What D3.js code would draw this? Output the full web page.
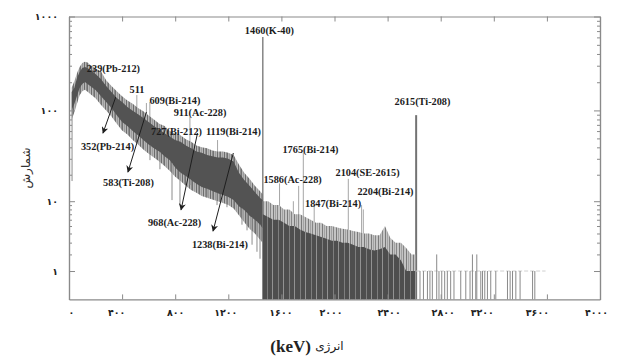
<!DOCTYPE html>
<html>
<head>
<meta charset="utf-8">
<script src="https://cdn.jsdelivr.net/npm/d3@7"></script>
<style>
  html, body { margin: 0; padding: 0; background: #fff; }
  svg { display: block; }
</style>
</head>
<body>
<svg id="chart" width="617" height="356"></svg>
<script>
// ---- Gamma spectrum of a soil sample (counts vs energy, keV) ----

// Continuum band below the K-40 line: energy (keV) and count envelopes
const bandEnergy = [20,40,60,80,100,120,140,160,200,240,280,320,360,400,440,480,520,560,600,640,680,720,760,800,840,880,920,960,1000,1040,1080,1120,1160,1200,1240,1280,1320,1360,1400,1440,1458];
const coreHigh  = [157,174,222,257,284,291,284,270,245,217,182,157,136,123,109,99,91,83,75,68,62,57,52,48,46,42,39,36,35,33,32,31,31,30,28,21,17.5,15,12.8,10.9,10.3];
const coreLow   = [101,117,143,174,192,201,192,182,165,143,123,106,89,75,68,60,54,48,43,39,36,32,29,24,21,19.4,17.5,15.8,14.6,13.9,13.1,12.4,11.8,11.2,10.3,8.7,7.9,6.7,6,5.2,4.7];
const outerHigh = [175,205,250,290,320,330,325,305,280,262,210,182,160,142,128,118,106,98,88,80,72,68,60,56,54,49,46,42,40,39,37,36,36,35,33,26,21,18,15,13,12];
const outerLow  = [80,95,118,145,160,166,158,150,135,115,100,86,72,61,55,48,43,38,34,31,28,25,22,19,17,15,13.5,12.5,11.5,11,10.5,10,9.5,9,8.2,6.8,5.6,4.6,4,3.3,3];

// Low-count region above the K-40 line (channels reach down to zero)
const tailEnergy = [1460,1500,1540,1580,1620,1660,1700,1740,1780,1820,1860,1900,1940,1980,2020,2060,2100,2140,2180,2220,2260,2300,2340,2380,2420,2460,2500,2540,2580,2612];
const tailCore   = [7,6.5,6,6,5.5,5,5,4.5,4.2,4,3.8,3.6,3.4,3.2,3.2,3,3,2.8,2.6,2.6,2.4,2.3,2.4,2.6,2,2,1.6,1,1,1];
const tailOuter  = [10,10,9,9,8,8,7,7,6.5,6,5.5,5.5,5,5,4.8,4.6,4.5,4.3,4.2,4,4,3.8,3.8,5,3.5,3,3,2.5,2,2];

// Single channels dipping below the continuum
const dipEnergy = [23,610,685,776,836,912,1040,1115,1190,1303,1341,1379,1416,1439];
const dipCount  = [17,29,23,10.3,9,15.3,11.2,9,8.5,5.2,4.4,2.8,2.2,1.7];

// Photopeak lines
const peakEnergy = [239,511,583,609,727,911,1119,1460,1586,1690,1730,1765,1847,2104,2204,2217,2615];
const peakCount  = [260,146,120,123,64,85,48,606,16,10,15,35,9,18,9,8,89];
const peakStrong = [1460,2615];

// Isolated channels beyond 2615 keV
const sparseEnergy = [2644,2670,2700,2719,2737,2770,2787,2808,2830,2850,2875,2900,2951,2989,3021,3039,3064,3072,3102,3115,3132,3152,3177,3215,3303,3323,3341,3366,3398,3492,3509];
const sparseCount  = [1,1,1,1,1,2,1,1,1,1,1,1,1,1,1,2,1,2,1,1,1,1,1,1,1,1,1,1,1,1,1];
const singleCountRange = [2615,3590];

// Peak identifications (text anchored in energy / count units)
const labelText   = ['239(Pb-212)','511','609(Bi-214)','911(Ac-228)','727(Bi-212)','1119(Bi-214)','352(Pb-214)','583(Ti-208)','968(Ac-228)','1238(Bi-214)','1460(K-40)','1765(Bi-214)','1586(Ac-228)','2104(SE-2615)','2204(Bi-214)','1847(Bi-214)','2615(Ti-208)'];
const labelEnergy = [335,512,798,987,810,1239,290,448,795,1137,1510,1819,1684,2249,2384,1989,2663];
const labelCount  = [283,169,129,94,60,60,41,16.2,5.5,2.8,718,38,17.9,21.4,12.8,9.5,126];

// Pointer arrows: from the peak to its label
const arrowFromE = [352,583,968,1238];
const arrowFromC = [139,96,57,34.7];
const arrowToE   = [256,444,844,1085];
const arrowToC   = [57,21.4,7.9,4.3];

// Axes
const xTicks = [0,400,800,1200,1600,2000,2400,2800,3200,3600,4000];
const xTickLabels = ['۰','۴۰۰','۸۰۰','۱۲۰۰','۱۶۰۰','۲۰۰۰','۲۴۰۰','۲۸۰۰','۳۲۰۰','۳۶۰۰','۴۰۰۰'];
const xLabelShift = [2,-6,0,-3,-1,-4,1,2,-12,-10,-4];
const yTicks = [1,10,100,1000];
const yTickLabels = ['۱','۱۰','۱۰۰','۱۰۰۰'];
const yMinorTicks = [2,3,4,5,6,7,8,9,20,30,40,50,60,70,80,90,200,300,400,500,600,700,800,900];

// ---- drawing ----
const svg = d3.select('#chart');
const L = 69, R = 600, T = 16.5, B = 299.4;
const x = d3.scaleLinear().domain([0, 4000]).range([L, R]);
const y = d3.scaleSymlog().constant(1).domain([0, 1000]).range([B, T]);

svg.append('rect').attr('width', 617).attr('height', 356).attr('fill', '#fff');

const defs = svg.append('defs');
function stripes(id, w, bg, lines) {
  const p = defs.append('pattern').attr('id', id)
    .attr('patternUnits', 'userSpaceOnUse').attr('width', w).attr('height', 8);
  p.append('rect').attr('width', w).attr('height', 8).attr('fill', bg);
  lines.forEach(([lx, c]) => p.append('rect').attr('x', lx).attr('width', 1).attr('height', 8).attr('fill', c));
}
// channel texture for the noisy edges of the spectrum
stripes('fuzz', 7, '#b6b6b6', [[0, '#6c6c6c'], [2, '#8c8c8c'], [3, '#707070'], [5, '#9c9c9c']]);
stripes('tailDark', 11, '#4e4e4e', [[3, '#7e7e7e'], [8, '#929292']]);
stripes('tailLight', 7, '#c4c4c4', [[0, '#7a7a7a'], [2, '#a2a2a2'], [4, '#868686']]);

defs.append('marker').attr('id', 'head')
  .attr('viewBox', '0 0 10 10').attr('refX', 9).attr('refY', 5)
  .attr('markerUnits', 'userSpaceOnUse').attr('markerWidth', 8).attr('markerHeight', 7)
  .attr('orient', 'auto')
  .append('path').attr('d', 'M0,0 L10,5 L0,10 L3,5 Z').attr('fill', '#1e1e1e');

const plot = svg.append('g');
const lowAt = d3.scaleLinear().domain(bandEnergy).range(coreLow).clamp(true);

// peak lines (drawn first so the continuum covers their feet)
plot.append('g').selectAll('line').data(peakEnergy).join('line')
  .attr('x1', d => x(d)).attr('x2', d => x(d))
  .attr('y1', d => y(d < 1460 ? lowAt(d) : 0))
  .attr('y2', (d, i) => y(peakCount[i]))
  .attr('stroke', d => peakStrong.includes(d) ? '#737373' : '#a6a6a6')
  .attr('stroke-width', d => d === 2615 ? 2 : (d === 1460 ? 1.3 : 1));

// continuum band
const band = bandEnergy.map((e, i) => ({e, hi: coreHigh[i], lo: coreLow[i], ohi: outerHigh[i], olo: outerLow[i]}));
plot.append('path').datum(band)
  .attr('d', d3.area().x(d => x(d.e)).y0(d => y(d.olo)).y1(d => y(d.ohi)))
  .attr('fill', 'url(#fuzz)');
plot.append('path').datum(band)
  .attr('d', d3.area().x(d => x(d.e)).y0(d => y(d.lo)).y1(d => y(d.hi)))
  .attr('fill', '#535353');

// low-count tail
const tail = tailEnergy.map((e, i) => ({e, core: tailCore[i], outer: tailOuter[i]}));
plot.append('path').datum(tail)
  .attr('d', d3.area().x(d => x(d.e)).y0(y(0)).y1(d => y(d.outer)))
  .attr('fill', 'url(#tailLight)');
plot.append('path').datum(tail)
  .attr('d', d3.area().x(d => x(d.e)).y0(y(0)).y1(d => y(d.core)))
  .attr('fill', 'url(#tailDark)');

// dips under the band
plot.append('g').selectAll('line').data(dipEnergy).join('line')
  .attr('x1', d => x(d)).attr('x2', d => x(d))
  .attr('y1', d => y(lowAt(d))).attr('y2', (d, i) => y(dipCount[i]))
  .attr('stroke', '#8c8c8c').attr('stroke-width', 1);

// isolated channels
plot.append('line')
  .attr('x1', x(singleCountRange[0])).attr('x2', x(singleCountRange[1]))
  .attr('y1', y(1)).attr('y2', y(1))
  .attr('stroke', '#cfcfcf').attr('stroke-width', 1).attr('stroke-dasharray', '4,2');
plot.append('g').selectAll('line').data(sparseEnergy).join('line')
  .attr('x1', d => x(d)).attr('x2', d => x(d))
  .attr('y1', y(0)).attr('y2', (d, i) => y(sparseCount[i]))
  .attr('stroke', '#8a8a8a').attr('stroke-width', 1);

// frame and axes
const axisColor = '#8a8a8a';
function styleAxis(g) {
  g.selectAll('path, line').attr('stroke', axisColor);
  g.select('.domain').attr('stroke-width', 1.2);
}
svg.append('g').attr('transform', `translate(0,${B})`)
  .call(d3.axisBottom(x).tickValues(xTicks).tickSizeInner(-5).tickSizeOuter(0).tickPadding(10)
    .tickFormat((d, i) => xTickLabels[i]))
  .call(styleAxis)
  .call(g => g.selectAll('text')
    .attr('dx', (d, i) => xLabelShift[i])
    .attr('font-family', 'DejaVu Sans').attr('font-weight', 'bold')
    .attr('font-size', 9.5).attr('fill', '#222'));
svg.append('g').attr('transform', `translate(0,${T})`)
  .call(d3.axisTop(x).tickValues(xTicks).tickSizeInner(-5).tickSizeOuter(0).tickFormat(''))
  .call(styleAxis);
svg.append('g').attr('transform', `translate(${L},0)`)
  .call(d3.axisLeft(y).tickValues(yMinorTicks).tickSizeInner(-3).tickSizeOuter(0).tickFormat(''))
  .call(styleAxis);
svg.append('g').attr('transform', `translate(${L},0)`)
  .call(d3.axisLeft(y).tickValues(yTicks).tickSizeInner(-6).tickSizeOuter(0).tickPadding(11)
    .tickFormat((d, i) => yTickLabels[i]))
  .call(styleAxis)
  .call(g => g.selectAll('text')
    .attr('font-family', 'DejaVu Sans').attr('font-weight', 'bold')
    .attr('font-size', 9.5).attr('fill', '#222'));
svg.append('g').attr('transform', `translate(${R},0)`)
  .call(d3.axisRight(y).tickValues(yMinorTicks).tickSizeInner(-3).tickSizeOuter(0).tickFormat(''))
  .call(styleAxis);
svg.append('g').attr('transform', `translate(${R},0)`)
  .call(d3.axisRight(y).tickValues(yTicks).tickSizeInner(-6).tickSizeOuter(0).tickFormat(''))
  .call(styleAxis);

// arrows
svg.append('g').selectAll('line').data(arrowFromE).join('line')
  .attr('x1', d => x(d)).attr('y1', (d, i) => y(arrowFromC[i]))
  .attr('x2', (d, i) => x(arrowToE[i])).attr('y2', (d, i) => y(arrowToC[i]))
  .attr('stroke', '#1e1e1e').attr('stroke-width', 1)
  .attr('marker-end', 'url(#head)');

// peak labels
svg.append('g').selectAll('text').data(labelText).join('text')
  .attr('x', (d, i) => x(labelEnergy[i])).attr('y', (d, i) => y(labelCount[i]))
  .attr('text-anchor', 'middle').attr('dominant-baseline', 'central')
  .attr('font-family', 'Liberation Serif, Times New Roman, serif')
  .attr('font-weight', 'bold').attr('font-size', 10.3).attr('fill', '#1c1c1c')
  .text(d => d);

// axis titles
svg.append('text')
  .attr('transform', 'translate(26,168) rotate(-90)')
  .attr('text-anchor', 'middle').attr('dominant-baseline', 'central')
  .attr('font-family', 'DejaVu Sans').attr('font-size', 12).attr('fill', '#333')
  .text('شمارش');

const xt = svg.append('text')
  .attr('x', 307).attr('y', 346)
  .attr('text-anchor', 'middle').attr('dominant-baseline', 'central')
  .attr('direction', 'ltr').attr('fill', '#222');
xt.append('tspan').attr('font-family', 'Liberation Serif, serif').attr('font-weight', 'bold')
  .attr('font-size', 17).text('(keV) ');
xt.append('tspan').attr('font-family', 'DejaVu Sans').attr('font-size', 12).text('انرژی');
</script>
</body>
</html>
